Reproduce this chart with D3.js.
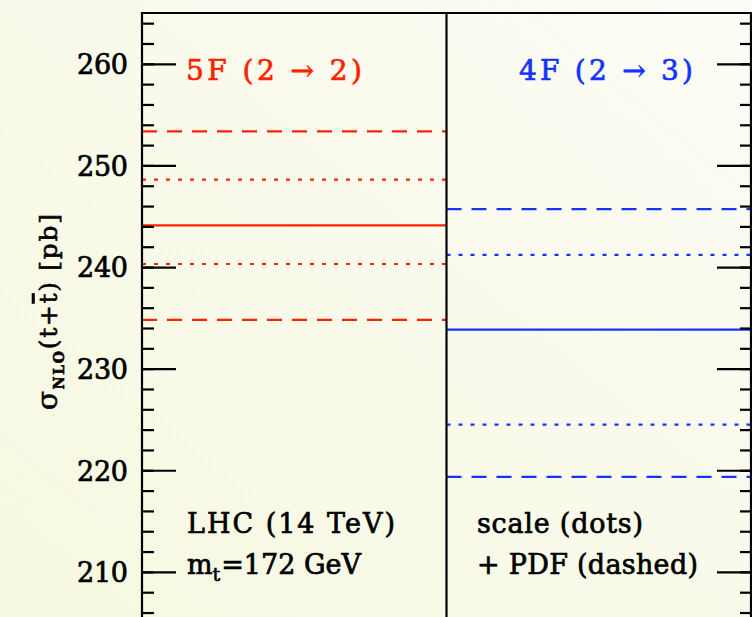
<!DOCTYPE html>
<html>
<head>
<meta charset="utf-8">
<script src="https://cdn.jsdelivr.net/npm/d3@7"></script>
<style>
  html, body { margin: 0; padding: 0; overflow: hidden; }
  svg { display: block; }
  .axis text { font-family: "DejaVu Serif", serif; }
</style>
</head>
<body>
<script>
// schemes (x categories) and cross sections in pb
var schemes = ["5F (2 \u2192 2)", "4F (2 \u2192 3)"];
var colors = ["#ff2200", "#1433ff"];
var central = [244.1, 233.85];
var scaleLow = [240.3, 224.5];
var scaleHigh = [248.6, 241.2];
var pdfLow = [234.8, 219.35];
var pdfHigh = [253.35, 245.7];
var majorTicks = [210, 220, 230, 240, 250, 260];

var width = 752;
var height = 617;

var svg = d3.select("body")
    .append("svg")
    .attr("width", width)
    .attr("height", height);

var defs = svg.append("defs");
var grad = defs.append("linearGradient")
    .attr("id", "bg")
    .attr("x1", "100%").attr("y1", "0%")
    .attr("x2", "0%").attr("y2", "100%");
grad.append("stop").attr("offset", "0%").attr("stop-color", "#fcfcf5");
grad.append("stop").attr("offset", "100%").attr("stop-color", "#f6f8e0");

svg.append("rect")
    .attr("width", width)
    .attr("height", height)
    .attr("fill", "url(#bg)");

var xScale = d3.scaleLinear().domain([0, 2]).range([142, 751]);
var yScale = d3.scaleLinear().domain([200, 265]).range([673.5, 13]);

// horizontal result lines
var rows = [];
schemes.forEach(function (s, i) {
    rows.push({ i: i, v: central[i], dash: null });
    rows.push({ i: i, v: scaleLow[i], dash: "4,8" });
    rows.push({ i: i, v: scaleHigh[i], dash: "4,8" });
    rows.push({ i: i, v: pdfLow[i], dash: "15,10" });
    rows.push({ i: i, v: pdfHigh[i], dash: "15,10" });
});

svg.append("g")
    .selectAll("line")
    .data(rows)
    .enter()
    .append("line")
    .attr("x1", function (d) { return xScale(d.i); })
    .attr("x2", function (d) { return xScale(d.i + 1); })
    .attr("y1", function (d) { return yScale(d.v); })
    .attr("y2", function (d) { return yScale(d.v); })
    .attr("stroke", function (d) { return colors[d.i]; })
    .attr("stroke-width", 2.2)
    .attr("stroke-dasharray", function (d) { return d.dash; });

// axes
var minorValues = d3.range(200, 266, 2);

var leftMinor = d3.axisLeft(yScale).tickValues(minorValues).tickSize(-12).tickFormat("");
var leftMajor = d3.axisLeft(yScale).tickValues(majorTicks).tickSize(-34).tickPadding(14);
var rightMinor = d3.axisRight(yScale).tickValues(minorValues).tickSize(-11).tickFormat("");
var rightMajor = d3.axisRight(yScale).tickValues(majorTicks).tickSize(-34).tickFormat("");

function styleAxis(g) {
    g.select(".domain").remove();
    g.selectAll(".tick line").attr("stroke", "#000").attr("stroke-width", 2.2);
}

svg.append("g").attr("class", "axis")
    .attr("transform", "translate(" + xScale(0) + ",0)")
    .call(leftMinor).call(styleAxis);
svg.append("g").attr("class", "axis")
    .attr("transform", "translate(" + xScale(0) + ",0)")
    .call(leftMajor).call(styleAxis)
    .selectAll("text")
    .attr("font-size", 27)
    .attr("fill", "#000")
    .attr("stroke", "#000")
    .attr("stroke-width", 0.7)
    .attr("dy", "0.36em")
    .attr("textLength", 51);
svg.append("g").attr("class", "axis")
    .attr("transform", "translate(" + xScale(2) + ",0)")
    .call(rightMinor).call(styleAxis);
svg.append("g").attr("class", "axis")
    .attr("transform", "translate(" + xScale(2) + ",0)")
    .call(rightMajor).call(styleAxis);

// frame
var frame = svg.append("g")
    .attr("stroke", "#000")
    .attr("stroke-width", 2.2)
    .attr("fill", "none");
frame.append("path")
    .attr("d", "M" + xScale(0) + "," + height + "V" + yScale(265) + "H" + xScale(2) + "V" + height);
frame.append("line")
    .attr("x1", xScale(1)).attr("x2", xScale(1))
    .attr("y1", yScale(265)).attr("y2", height);

// labels
var font = "'DejaVu Serif', serif";

svg.selectAll(".scheme")
    .data(schemes)
    .enter()
    .append("text")
    .attr("class", "scheme")
    .attr("x", function (d, i) { return i === 0 ? 186 : 519; })
    .attr("y", 80)
    .attr("font-family", font)
    .attr("font-size", 28)
    .attr("fill", function (d, i) { return colors[i]; })
    .attr("stroke", function (d, i) { return colors[i]; })
    .attr("stroke-width", 0.7)
    .attr("textLength", function (d, i) { return i === 0 ? 176 : 174; })
    .text(function (d) { return d; });

function note(x, y, str, len) {
    return svg.append("text")
        .attr("x", x).attr("y", y)
        .attr("font-family", font)
        .attr("font-size", 27)
        .attr("fill", "#000")
        .attr("stroke", "#000")
        .attr("stroke-width", 0.7)
        .attr("textLength", len)
        .text(str);
}
note(187, 533, "LHC (14 TeV)", 208);
note(477, 533, "scale (dots)", 166);
note(477, 574, "+ PDF (dashed)", 221);

var mt = svg.append("text")
    .attr("x", 187).attr("y", 574)
    .attr("font-family", font)
    .attr("font-size", 27)
    .attr("fill", "#000")
    .attr("stroke", "#000")
    .attr("stroke-width", 0.7);
mt.append("tspan").text("m");
mt.append("tspan").attr("font-size", 19).attr("dy", 7).text("t");
mt.append("tspan").attr("dy", -7).attr("dx", 1).text("=172 GeV");

// y axis title
var yt = svg.append("text")
    .attr("transform", "translate(57,312) rotate(-90)")
    .attr("text-anchor", "middle")
    .attr("font-family", font)
    .attr("font-size", 25)
    .attr("fill", "#000")
    .attr("stroke", "#000")
    .attr("stroke-width", 0.6)
    .attr("textLength", 196);
yt.append("tspan").attr("font-size", 28).text("\u03c3");
yt.append("tspan").attr("font-size", 14).attr("font-weight", "bold").attr("dy", 7).text("NLO");
yt.append("tspan").attr("dy", -7).text("(t+");
yt.append("tspan").style("text-decoration", "overline").text("t");
yt.append("tspan").text(")  [pb]");
</script>
</body>
</html>
